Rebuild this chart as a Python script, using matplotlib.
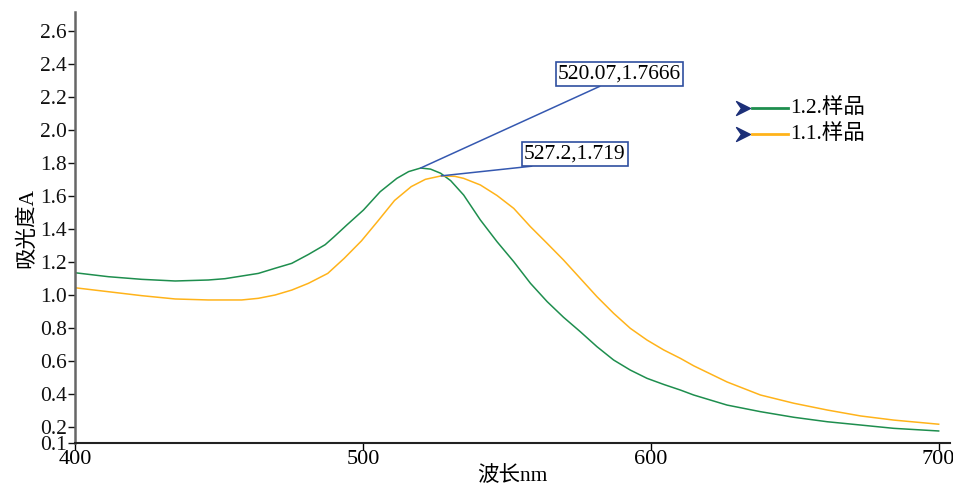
import numpy as np
import matplotlib
matplotlib.use('Agg')
import matplotlib.pyplot as plt
from matplotlib.path import Path

plt.rcParams['font.family'] = ['Liberation Serif', 'Noto Sans CJK SC']

# wavelength (nm) and absorbance
wl_12 = [400, 411.6, 423.2, 434.8, 446.3, 452.1, 457.9, 463.7, 469.5, 475.3,
         481.1, 486.9, 490.0, 494.4, 500.2, 506.0, 511.8, 515.9, 520.07, 523.5,
         527.0, 530.5, 535.0, 540.8, 546.6, 552.4, 558.2, 564.0, 569.7, 575.5,
         581.3, 587.1, 592.9, 598.7, 604.5, 610.3, 614.9, 626.5, 638.1, 649.7,
         661.3, 672.9, 684.4, 700]
abs_12 = [1.132, 1.108, 1.092, 1.082, 1.088, 1.096, 1.112, 1.128, 1.159, 1.189,
          1.243, 1.302, 1.350, 1.421, 1.512, 1.623, 1.704, 1.745, 1.7666, 1.760,
          1.735, 1.690, 1.603, 1.452, 1.320, 1.199, 1.068, 0.957, 0.862, 0.775,
          0.684, 0.603, 0.542, 0.492, 0.455, 0.421, 0.391, 0.330, 0.290, 0.256,
          0.229, 0.209, 0.189, 0.173]

wl_11 = [400, 411.6, 423.2, 434.8, 446.3, 457.9, 463.7, 469.5, 475.3, 481.1,
         487.8, 493.5, 499.5, 505.2, 511.0, 516.8, 521.7, 527.2, 532.0, 535.0,
         540.8, 546.6, 552.4, 558.2, 564.0, 569.7, 575.5, 581.3, 587.1, 592.9,
         598.7, 604.5, 610.3, 614.9, 626.5, 638.1, 649.7, 661.3, 672.9, 684.4,
         700]
abs_11 = [1.041, 1.017, 0.993, 0.973, 0.967, 0.967, 0.977, 0.997, 1.027, 1.068,
          1.128, 1.219, 1.325, 1.445, 1.570, 1.654, 1.698, 1.719, 1.716, 1.704,
          1.664, 1.600, 1.522, 1.411, 1.310, 1.209, 1.098, 0.987, 0.886, 0.795,
          0.724, 0.664, 0.613, 0.568, 0.470, 0.391, 0.341, 0.300, 0.264, 0.239,
          0.214]

series_names = ['1.2.样品', '1.1.样品']
series_colors = ['#1e8e4e', '#ffb31a']

peaks = [(520.07, 1.7666), (527.2, 1.719)]
peak_labels = ['520.07,1.7666', '527.2,1.719']

y_ticks = [0.1, 0.2, 0.4, 0.6, 0.8, 1.0, 1.2, 1.4, 1.6, 1.8, 2.0, 2.2, 2.4, 2.6]
x_ticks = [400, 500, 600, 700]

fig = plt.figure(figsize=(9.54, 4.87), dpi=100)
ax = fig.add_axes([0.0786, 0.0903, 0.9174, 0.885])

ax.plot(wl_12, abs_12, color=series_colors[0], lw=1.1)
ax.plot(wl_11, abs_11, color=series_colors[1], lw=1.1)

ax.set_xlim(400, 704)
ax.set_ylim(0.1, 2.712)
ax.set_xticks(x_ticks)
ax.set_yticks(y_ticks)
ax.set_yticklabels([f'{v:.1f}' for v in y_ticks])
ax.tick_params(axis='x', labelsize=16, length=5, width=1, pad=0)
ax.tick_params(axis='y', labelsize=15.5, length=5, width=1, pad=1, colors='#111111')

for s in ['top', 'right']:
    ax.spines[s].set_visible(False)
ax.spines['left'].set_color('#666666')
ax.spines['left'].set_linewidth(1.8)
ax.spines['bottom'].set_color('#222222')
ax.spines['bottom'].set_linewidth(1.5)

ax.set_xlabel('波长nm', fontsize=15.5, labelpad=-2)
ax.set_ylabel('吸光度A', fontsize=15.5, labelpad=2)

# peak call-outs
box_pos = [(589.1, 2.336), (573.6, 1.852)]
rel = [(0.39, 0.0), (0.33, 0.0)]
for (px, py), lab, (tx, ty), rp in zip(peaks, peak_labels, box_pos, rel):
    ax.annotate(lab, xy=(px, py), xytext=(tx, ty), ha='center', va='center',
                fontsize=15.5,
                bbox=dict(boxstyle='square,pad=0.1', fc='white', ec='#2f4fa0', lw=1.2),
                arrowprops=dict(arrowstyle='-', color='#3558b0', lw=1.1,
                                relpos=rp, shrinkA=0, shrinkB=0))

# legend drawn by hand: chevron + line + name
chevron = Path([(-1, 1), (1, 0), (-1, -1), (-0.3, 0), (-1, 1)],
               [Path.MOVETO, Path.LINETO, Path.LINETO, Path.LINETO, Path.CLOSEPOLY])
leg_y = [0.777, 0.717]
for name, col, yy in zip(series_names, series_colors, leg_y):
    ax.plot([0.773, 0.815], [yy, yy], color=col, lw=2, transform=ax.transAxes,
            clip_on=False)
    ax.plot([0.763], [yy], marker=chevron, ms=10, color='#1c2f78',
            transform=ax.transAxes, clip_on=False)
    ax.text(0.817, yy, name, fontsize=15.5, va='center', ha='left',
            transform=ax.transAxes)

fig.savefig('out.png', dpi=100)
